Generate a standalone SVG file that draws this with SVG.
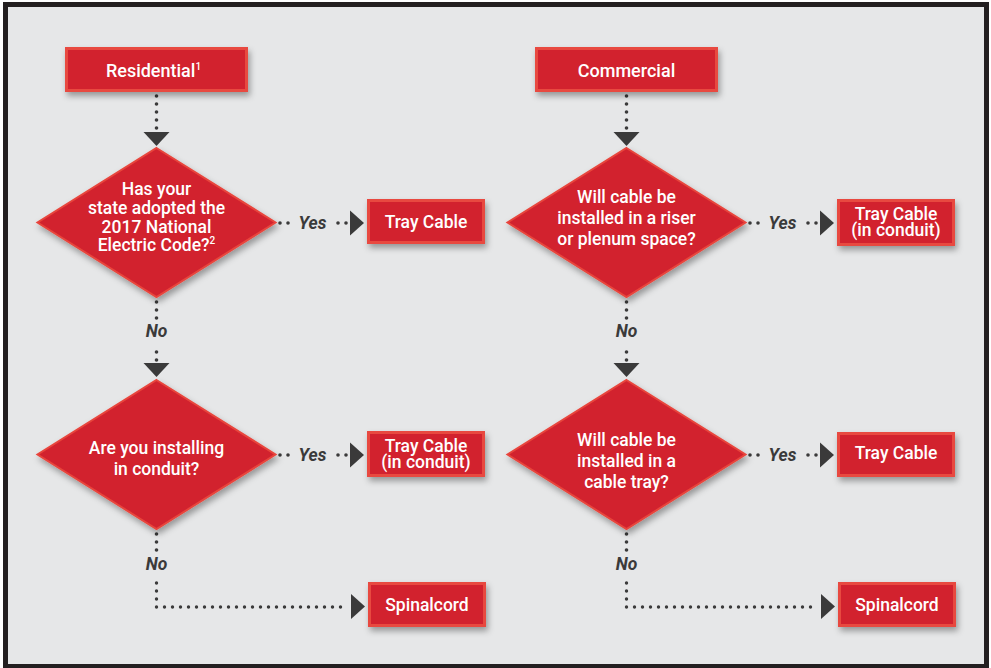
<svg xmlns="http://www.w3.org/2000/svg" width="991" height="668" viewBox="0 0 991 668">
<defs>
<filter id="sh" x="-20%" y="-20%" width="140%" height="150%">
<feDropShadow dx="2" dy="4" stdDeviation="3" flood-color="#000" flood-opacity="0.35"/>
</filter>
<style>
.box{fill:#d2232e;stroke:#e84a40;stroke-width:3;filter:url(#sh)}
.dia{fill:#d2232e;stroke:#e8453c;stroke-width:2;filter:url(#sh)}
.t{font-family:Roboto,"Liberation Sans",sans-serif;font-weight:500;fill:#fff;text-anchor:middle;font-size:17.5px}
.tb{font-size:18px}
.lbl{font-family:Roboto,"Liberation Sans",sans-serif;font-weight:700;font-style:italic;fill:#3a3a3a;text-anchor:middle;font-size:17.5px}
.dot{fill:none;stroke:#3a3a3a;stroke-width:3.4;stroke-linecap:round;stroke-dasharray:0 8}
.d{fill:#3a3a3a}
.arr{fill:#3a3a3a}
</style>
</defs>
<rect x="5.5" y="4.5" width="981" height="662" fill="#e6e7e8" stroke="#231f20" stroke-width="5"/>

<g id="connectors">
<!-- left column -->
<g class="d">
<circle cx="156.5" cy="96" r="1.8"/><circle cx="156.5" cy="104" r="1.8"/><circle cx="156.5" cy="112" r="1.8"/><circle cx="156.5" cy="120" r="1.8"/><circle cx="156.5" cy="128" r="1.8"/>
<circle cx="280" cy="223" r="1.8"/><circle cx="288" cy="223" r="1.8"/><circle cx="338" cy="223" r="1.8"/><circle cx="346" cy="223" r="1.8"/>
<circle cx="156.5" cy="302" r="1.8"/><circle cx="156.5" cy="310" r="1.8"/><circle cx="156.5" cy="318" r="1.8"/>
<circle cx="156.5" cy="352" r="1.8"/><circle cx="156.5" cy="360" r="1.8"/>
<circle cx="280" cy="455" r="1.8"/><circle cx="288" cy="455" r="1.8"/><circle cx="338" cy="455" r="1.8"/><circle cx="346" cy="455" r="1.8"/>
<circle cx="156.5" cy="534" r="1.8"/><circle cx="156.5" cy="542" r="1.8"/><circle cx="156.5" cy="550" r="1.8"/>
</g>
<polygon class="arr" points="143.5,132 169.5,132 156.5,146"/>
<polygon class="arr" points="350,210.5 350,235.5 364,223"/>
<polygon class="arr" points="143.5,363 169.5,363 156.5,377"/>
<polygon class="arr" points="350,442.5 350,467.5 364,455"/>
<path class="dot" d="M156.5 583 V607 H347"/>
<polygon class="arr" points="351,594 351,619 365,606.5"/>
<text class="lbl" x="312.5" y="229">Yes</text>
<text class="lbl" x="156.5" y="337">No</text>
<text class="lbl" x="312.5" y="461">Yes</text>
<text class="lbl" x="156.5" y="570">No</text>
<!-- right column -->
<g class="d">
<circle cx="626.5" cy="96" r="1.8"/><circle cx="626.5" cy="104" r="1.8"/><circle cx="626.5" cy="112" r="1.8"/><circle cx="626.5" cy="120" r="1.8"/><circle cx="626.5" cy="128" r="1.8"/>
<circle cx="750" cy="223" r="1.8"/><circle cx="758" cy="223" r="1.8"/><circle cx="808" cy="223" r="1.8"/><circle cx="816" cy="223" r="1.8"/>
<circle cx="626.5" cy="302" r="1.8"/><circle cx="626.5" cy="310" r="1.8"/><circle cx="626.5" cy="318" r="1.8"/>
<circle cx="626.5" cy="352" r="1.8"/><circle cx="626.5" cy="360" r="1.8"/>
<circle cx="750" cy="455" r="1.8"/><circle cx="758" cy="455" r="1.8"/><circle cx="808" cy="455" r="1.8"/><circle cx="816" cy="455" r="1.8"/>
<circle cx="626.5" cy="534" r="1.8"/><circle cx="626.5" cy="542" r="1.8"/><circle cx="626.5" cy="550" r="1.8"/>
</g>
<polygon class="arr" points="613.5,132 639.5,132 626.5,146"/>
<polygon class="arr" points="820,210.5 820,235.5 834,223"/>
<polygon class="arr" points="613.5,363 639.5,363 626.5,377"/>
<polygon class="arr" points="820,442.5 820,467.5 834,455"/>
<path class="dot" d="M626.5 583 V607 H817"/>
<polygon class="arr" points="821,594 821,619 835,606.5"/>
<text class="lbl" x="782.5" y="229">Yes</text>
<text class="lbl" x="626.5" y="337">No</text>
<text class="lbl" x="782.5" y="461">Yes</text>
<text class="lbl" x="626.5" y="570">No</text>
</g>

<g id="residential">
<rect class="box" x="66.5" y="48.5" width="180" height="42"/>
<text class="t tb" x="153.5" y="77">Residential<tspan font-size="10" dy="-7">1</tspan></text>
</g>
<g id="q1">
<polygon class="dia" points="156.5,148 275.5,222.5 156.5,297 37.5,222.5"/>
<text class="t" x="156.5" y="195">Has your</text>
<text class="t" x="156.5" y="214">state adopted the</text>
<text class="t" x="156.5" y="232.5">2017 National</text>
<text class="t" x="156.5" y="251">Electric Code?<tspan font-size="10" dy="-7">2</tspan></text>
</g>
<g id="r-tray1">
<rect class="box" x="368.5" y="200.5" width="115" height="42"/>
<text class="t" x="426" y="228">Tray Cable</text>
</g>
<g id="q2">
<polygon class="dia" points="156.5,380 275.5,454.5 156.5,529 37.5,454.5"/>
<text class="t" x="156.5" y="454">Are you installing</text>
<text class="t" x="156.5" y="475">in conduit?</text>
</g>
<g id="r-tray2">
<rect class="box" x="368.5" y="432.5" width="115" height="43"/>
<text class="t" x="426" y="452">Tray Cable</text>
<text class="t" x="426" y="467.5">(in conduit)</text>
</g>
<g id="r-spinal">
<rect class="box" x="369.5" y="583.5" width="115" height="42"/>
<text class="t" x="427" y="611">Spinalcord</text>
</g>

<g id="commercial">
<rect class="box" x="536.5" y="48.5" width="180" height="42"/>
<text class="t tb" x="626.5" y="77">Commercial</text>
</g>
<g id="q3">
<polygon class="dia" points="626.5,148 745.5,222.5 626.5,297 507.5,222.5"/>
<text class="t" x="626.5" y="203">Will cable be</text>
<text class="t" x="626.5" y="224">installed in a riser</text>
<text class="t" x="626.5" y="245">or plenum space?</text>
</g>
<g id="c-tray1">
<rect class="box" x="838.5" y="200.5" width="115" height="44"/>
<text class="t" x="896" y="220">Tray Cable</text>
<text class="t" x="896" y="236">(in conduit)</text>
</g>
<g id="q4">
<polygon class="dia" points="626.5,380 745.5,454.5 626.5,529 507.5,454.5"/>
<text class="t" x="626.5" y="446">Will cable be</text>
<text class="t" x="626.5" y="467">installed in a</text>
<text class="t" x="626.5" y="488">cable tray?</text>
</g>
<g id="c-tray2">
<rect class="box" x="838.5" y="433.5" width="115" height="42"/>
<text class="t" x="896" y="459">Tray Cable</text>
</g>
<g id="c-spinal">
<rect class="box" x="839.5" y="583.5" width="115" height="42"/>
<text class="t" x="897" y="611">Spinalcord</text>
</g>
</svg>
